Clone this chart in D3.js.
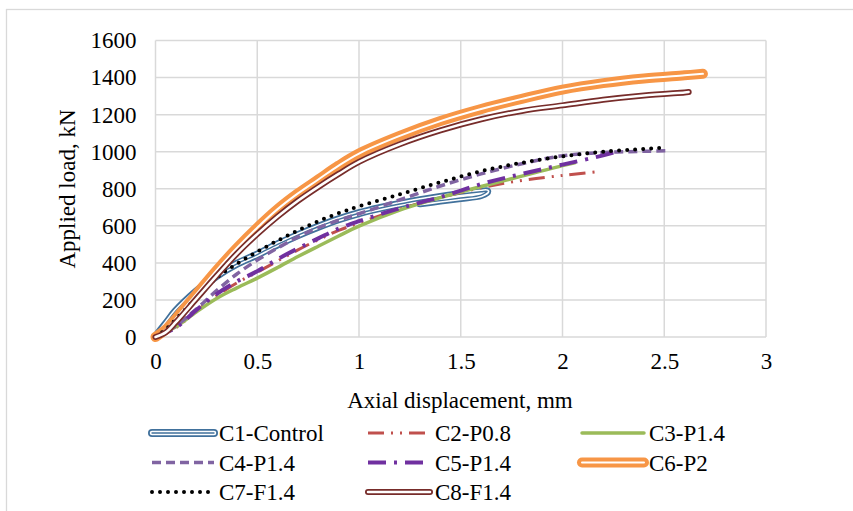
<!DOCTYPE html>
<html>
<head>
<meta charset="utf-8">
<script src="https://cdn.jsdelivr.net/npm/d3@7"></script>
<style>
  body { margin: 0; background: #ffffff; }
  text { font-family: "Liberation Serif", "Times New Roman", serif; fill: #000000; }
</style>
</head>
<body>
<div id="chart"></div>
<script>
// axis ticks
const X_TICKS = [0, 0.5, 1, 1.5, 2, 2.5, 3];
const Y_TICKS = [0, 200, 400, 600, 800, 1000, 1200, 1400, 1600];

// series names
const NAMES = ["C1-Control", "C2-P0.8", "C3-P1.4", "C4-P1.4", "C5-P1.4", "C6-P2", "C7-F1.4", "C8-F1.4"];

// axial displacement (mm) and applied load (kN)
const C1_DISP = [0, 0.05, 0.1, 0.2, 0.3, 0.4, 0.5, 0.6, 0.7, 0.8, 0.9, 1.0, 1.1, 1.2, 1.3, 1.4, 1.5, 1.6, 1.63, 1.6, 1.5, 1.4, 1.3];
const C1_LOAD = [0, 70, 140, 245, 330, 395, 445, 500, 550, 595, 635, 668, 695, 718, 738, 756, 772, 784, 786, 766, 750, 736, 722];

const C2_DISP = [0, 0.1, 0.2, 0.3, 0.4, 0.5, 0.6, 0.7, 0.8, 0.9, 1.0, 1.2, 1.4, 1.6, 1.8, 2.0, 2.17];
const C2_LOAD = [0, 50, 140, 222, 292, 350, 410, 470, 525, 575, 615, 690, 752, 805, 845, 872, 892];

const C3_DISP = [0, 0.1, 0.2, 0.3, 0.4, 0.5, 0.6, 0.7, 0.8, 0.9, 1.0, 1.2, 1.4, 1.6, 1.8, 2.0, 2.06];
const C3_LOAD = [0, 55, 135, 208, 265, 318, 375, 434, 490, 545, 598, 685, 752, 812, 868, 925, 940];

const C4_DISP = [0, 0.1, 0.2, 0.3, 0.4, 0.5, 0.6, 0.7, 0.8, 0.9, 1.0, 1.2, 1.4, 1.6, 1.8, 2.0, 2.2, 2.4, 2.53];
const C4_LOAD = [0, 60, 150, 250, 340, 415, 480, 540, 590, 630, 665, 740, 815, 880, 935, 978, 995, 1002, 1005];

const C5_DISP = [0, 0.1, 0.2, 0.3, 0.4, 0.5, 0.6, 0.7, 0.8, 0.9, 1.0, 1.2, 1.4, 1.6, 1.8, 2.0, 2.2, 2.25];
const C5_LOAD = [0, 50, 145, 232, 300, 355, 420, 478, 532, 585, 625, 695, 755, 825, 880, 930, 980, 995];

const C6_DISP = [0, 0.05, 0.1, 0.2, 0.3, 0.4, 0.5, 0.6, 0.7, 0.8, 0.9, 1.0, 1.2, 1.4, 1.6, 1.8, 2.0, 2.2, 2.4, 2.6, 2.69];
const C6_LOAD = [0, 40, 100, 230, 360, 480, 590, 690, 775, 850, 925, 990, 1085, 1165, 1230, 1285, 1335, 1370, 1395, 1412, 1420];

const C7_DISP = [0, 0.05, 0.1, 0.2, 0.3, 0.4, 0.5, 0.6, 0.7, 0.8, 0.9, 1.0, 1.2, 1.4, 1.6, 1.8, 2.0, 2.2, 2.4, 2.48];
const C7_LOAD = [0, 40, 95, 210, 320, 395, 460, 520, 575, 625, 668, 705, 770, 835, 895, 940, 975, 1000, 1015, 1020];

const C8_DISP = [0, 0.05, 0.1, 0.2, 0.3, 0.4, 0.5, 0.6, 0.7, 0.8, 0.9, 1.0, 1.2, 1.4, 1.6, 1.8, 2.0, 2.2, 2.4, 2.6, 2.62];
const C8_LOAD = [0, 25, 80, 205, 330, 450, 555, 650, 735, 810, 880, 945, 1040, 1115, 1175, 1220, 1250, 1280, 1303, 1320, 1322];

const DISPS = [C1_DISP, C2_DISP, C3_DISP, C4_DISP, C5_DISP, C6_DISP, C7_DISP, C8_DISP];
const LOADS = [C1_LOAD, C2_LOAD, C3_LOAD, C4_LOAD, C5_LOAD, C6_LOAD, C7_LOAD, C8_LOAD];

// frame and plot area
const FRAME_WIDTH = 853;
const FRAME_HEIGHT = 511;
const PLOT = {left: 155.5, right: 766, top: 40.5, bottom: 337};

// line styles: each layer is drawn on top of the previous one
const STYLES = [
  [{color: "#41719C", width: 8}, {color: "#ffffff", width: 4.5}, {color: "#41719C", width: 1.4}],
  [{color: "#C0504D", width: 3, dash: "16 7 2 7 2 7", cap: "butt"}],
  [{color: "#9BBB59", width: 3.5}],
  [{color: "#8064A2", width: 3.5, dash: "9 5", cap: "butt"}],
  [{color: "#7030A0", width: 4, dash: "18 8 3 8", cap: "butt"}],
  [{color: "#F79646", width: 10}, {color: "#ffffff", width: 2}],
  [{color: "#000000", width: 4, dash: "0 8", cap: "round"}],
  [{color: "#772C2A", width: 6}, {color: "#ffffff", width: 2.5}]
];

const SVG = d3.select("#chart")
              .append("svg")
                .attr("width", FRAME_WIDTH)
                .attr("height", FRAME_HEIGHT);

// outer chart border
SVG.append("rect")
    .attr("x", 6.5)
    .attr("y", 9.5)
    .attr("width", 1000)
    .attr("height", 800)
    .attr("fill", "none")
    .attr("stroke", "#D9D9D9")
    .attr("stroke-width", 1.3);

const X_SCALE = d3.scaleLinear()
                  .domain([0, 3])
                  .range([PLOT.left, PLOT.right]);

const Y_SCALE = d3.scaleLinear()
                  .domain([0, 1600])
                  .range([PLOT.bottom, PLOT.top]);

// gridlines
SVG.append("g")
    .selectAll("line")
    .data(X_TICKS)
    .enter()
    .append("line")
      .attr("x1", (d) => X_SCALE(d))
      .attr("x2", (d) => X_SCALE(d))
      .attr("y1", PLOT.top)
      .attr("y2", PLOT.bottom)
      .attr("stroke", "#D9D9D9")
      .attr("stroke-width", 1.5);

SVG.append("g")
    .selectAll("line")
    .data(Y_TICKS)
    .enter()
    .append("line")
      .attr("x1", PLOT.left)
      .attr("x2", PLOT.right)
      .attr("y1", (d) => Y_SCALE(d))
      .attr("y2", (d) => Y_SCALE(d))
      .attr("stroke", "#D9D9D9")
      .attr("stroke-width", 1.5);

// x axis labels
SVG.append("g")
    .attr("transform", "translate(0," + (PLOT.bottom + 14) + ")")
    .call(d3.axisBottom(X_SCALE).tickValues(X_TICKS).tickSize(0).tickPadding(0).tickFormat(d3.format("")))
    .call((g) => g.select(".domain").remove())
    .selectAll("text")
      .attr("font-size", "23px")
      .attr("fill", "#000")
      .attr("dy", "0.8em");

// y axis labels
SVG.append("g")
    .attr("transform", "translate(" + (PLOT.left - 19) + ",0)")
    .call(d3.axisLeft(Y_SCALE).tickValues(Y_TICKS).tickSize(0).tickPadding(0).tickFormat(d3.format("d")))
    .call((g) => g.select(".domain").remove())
    .selectAll("text")
      .attr("font-size", "23px")
      .attr("fill", "#000");

// axis titles
SVG.append("text")
    .attr("x", 460)
    .attr("y", 408)
    .attr("text-anchor", "middle")
    .attr("font-size", "23px")
    .text("Axial displacement, mm");

SVG.append("text")
    .attr("transform", "translate(75,189) rotate(-90)")
    .attr("text-anchor", "middle")
    .attr("font-size", "23px")
    .text("Applied load, kN");

// curves
const LINE = d3.line()
               .x((d) => X_SCALE(d[0]))
               .y((d) => Y_SCALE(d[1]))
               .curve(d3.curveCatmullRom.alpha(0.5));

const CURVES = SVG.append("g");
DISPS.forEach((disp, i) => {
  const pts = disp.map((x, j) => [x, LOADS[i][j]]);
  STYLES[i].forEach((s) => {
    CURVES.append("path")
      .datum(pts)
      .attr("d", LINE)
      .attr("fill", "none")
      .attr("stroke", s.color)
      .attr("stroke-width", s.width)
      .attr("stroke-linecap", s.cap || "round")
      .attr("stroke-linejoin", "round")
      .attr("stroke-dasharray", s.dash || null);
  });
});

// legend
const LEG_COLS = [148, 364, 578];
const LEG_ROWS = [433, 462.5, 492];
const LEGEND = SVG.append("g");
NAMES.forEach((name, i) => {
  const lx = LEG_COLS[i % 3];
  const ly = LEG_ROWS[Math.floor(i / 3)];
  STYLES[i].forEach((s) => {
    LEGEND.append("line")
      .attr("x1", lx + 4)
      .attr("x2", lx + 66)
      .attr("y1", ly)
      .attr("y2", ly)
      .attr("stroke", s.color)
      .attr("stroke-width", s.width)
      .attr("stroke-linecap", s.cap || "round")
      .attr("stroke-dasharray", s.dash || null);
  });
  LEGEND.append("text")
    .attr("x", lx + 71)
    .attr("y", ly)
    .attr("dy", "0.35em")
    .attr("font-size", "23px")
    .text(name);
});
</script>
</body>
</html>
